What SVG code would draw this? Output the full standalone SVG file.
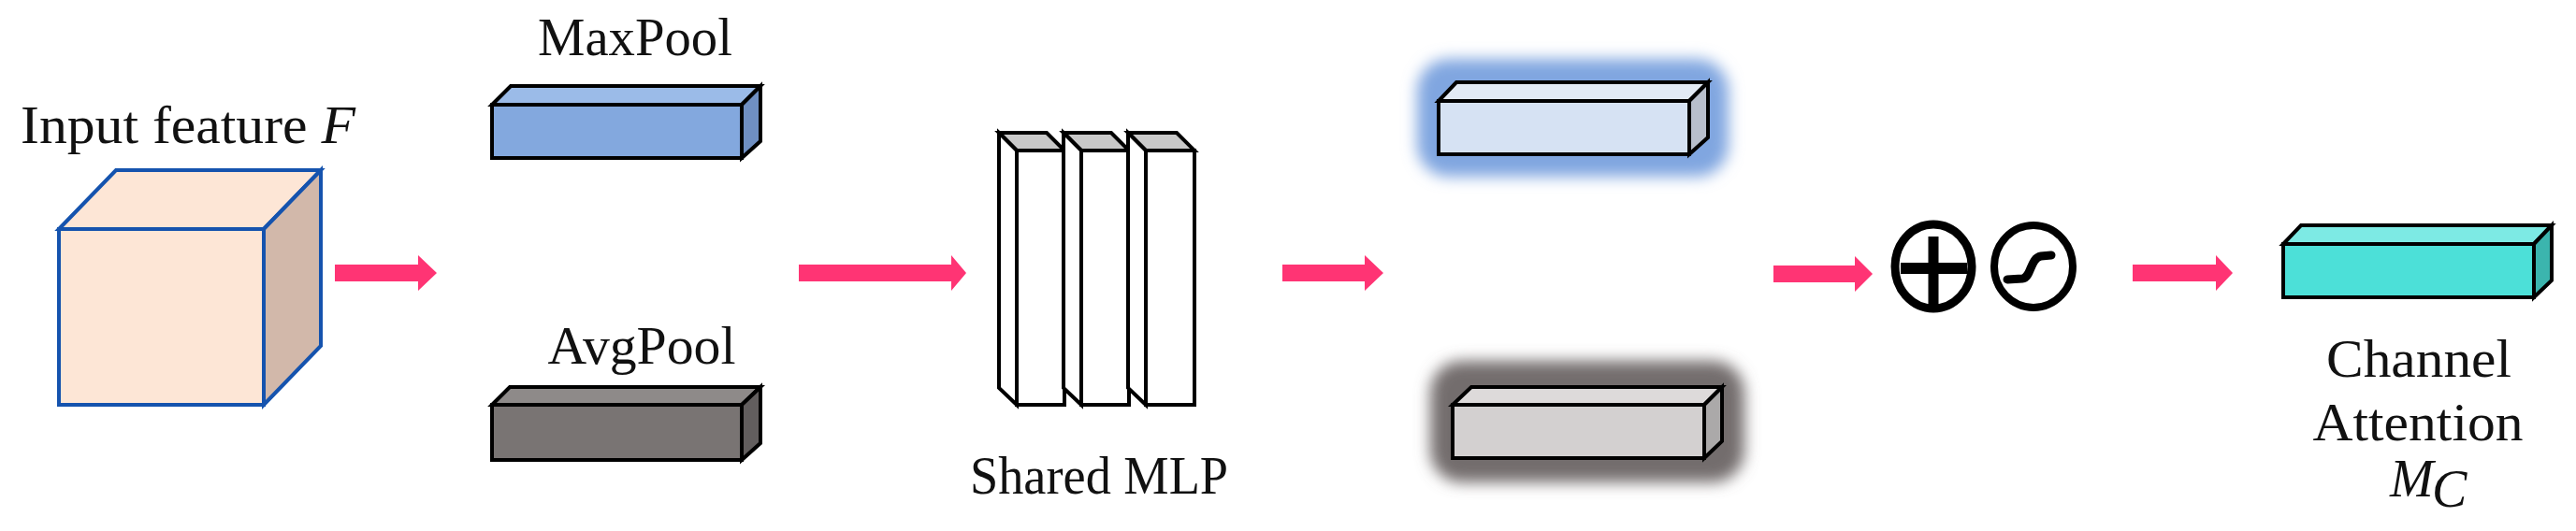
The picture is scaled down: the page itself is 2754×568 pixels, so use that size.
<svg xmlns="http://www.w3.org/2000/svg" width="2754" height="568" viewBox="0 0 2754 568">
<defs>
<style>
.lbl{font-family:"Liberation Serif","Times New Roman",serif;font-size:56px;fill:#111}
.arrow{fill:#FF3474}
.bar{stroke:#000;stroke-width:4;stroke-linejoin:miter}
.slab{stroke:#000;stroke-width:4;stroke-linejoin:miter}
.cube{stroke:#1553AE;stroke-width:4;stroke-linejoin:miter}
.sym{fill:none;stroke:#000}
</style>
<filter id="blur" x="-20%" y="-50%" width="140%" height="200%">
<feGaussianBlur stdDeviation="8"/>
</filter>
</defs>
<rect width="2754" height="568" fill="#fff"/>

<g id="input-feature">
<text class="lbl" x="22" y="153" textLength="358" lengthAdjust="spacingAndGlyphs">Input feature <tspan font-style="italic">F</tspan></text>
<polygon class="cube" fill="#FDE6D6" points="63,245 124,182 343,182 282,245"/>
<polygon class="cube" fill="#D2B8AA" points="282,245 343,182 343,370 282,433"/>
<rect class="cube" fill="#FDE6D6" x="63" y="245" width="219" height="188"/>
</g>

<g id="maxpool">
<text class="lbl" x="679" y="59" text-anchor="middle" textLength="208" lengthAdjust="spacingAndGlyphs">MaxPool</text>
<polygon class="bar" fill="#9BBBE8" points="526,112 546,92 813,92 793,112"/>
<polygon class="bar" fill="#6F8FC2" points="793,112 813,92 813,151 793,169"/>
<rect class="bar" fill="#83A8DE" x="526" y="112" width="267" height="57"/>
</g>

<g id="avgpool">
<text class="lbl" x="686" y="389" text-anchor="middle" textLength="201" lengthAdjust="spacingAndGlyphs">AvgPool</text>
<polygon class="bar" fill="#8E8A89" points="526,433 545,414 813,414 793,433"/>
<polygon class="bar" fill="#625E5E" points="793,433 813,414 813,474 793,492"/>
<rect class="bar" fill="#797473" x="526" y="433" width="267" height="59"/>
</g>

<g id="shared-mlp">
<polygon class="slab" fill="#C8C8C8" points="1068,142 1119,142 1138,161 1087,161"/>
<polygon class="slab" fill="#fff" points="1068,142 1087,161 1087,433 1068,415"/>
<rect class="slab" fill="#fff" x="1087" y="161" width="51" height="272"/>
<polygon class="slab" fill="#C8C8C8" points="1137,142 1188,142 1207,161 1156,161"/>
<polygon class="slab" fill="#fff" points="1137,142 1156,161 1156,433 1137,415"/>
<rect class="slab" fill="#fff" x="1156" y="161" width="51" height="272"/>
<polygon class="slab" fill="#C8C8C8" points="1206,142 1258,142 1277,161 1225,161"/>
<polygon class="slab" fill="#fff" points="1206,142 1225,161 1225,433 1206,415"/>
<rect class="slab" fill="#fff" x="1225" y="161" width="52" height="272"/>
<text class="lbl" x="1175" y="528" text-anchor="middle" textLength="276" lengthAdjust="spacingAndGlyphs">Shared MLP</text>
</g>

<g id="max-out">
<rect x="1515" y="63" width="333" height="126" rx="34" fill="#80A6E0" filter="url(#blur)"/>
<polygon class="bar" fill="#E2EAF5" points="1538,108 1557,88 1826,88 1806,108"/>
<polygon class="bar" fill="#B8BFCC" points="1806,108 1826,88 1826,147 1806,165"/>
<rect class="bar" fill="#D6E2F3" x="1538" y="108" width="268" height="57"/>
</g>

<g id="avg-out">
<rect x="1529" y="386" width="336" height="130" rx="34" fill="#736D6D" filter="url(#blur)"/>
<polygon class="bar" fill="#DDDADA" points="1553,433 1573,414 1841,414 1822,433"/>
<polygon class="bar" fill="#ABA9A9" points="1822,433 1841,414 1841,472 1822,490"/>
<rect class="bar" fill="#D3D0D0" x="1553" y="433" width="269" height="57"/>
</g>

<g id="sum">
<ellipse class="sym" cx="2067" cy="285" rx="41" ry="45" stroke-width="9"/>
<line class="sym" x1="2067" y1="253" x2="2067" y2="328" stroke-width="11"/>
<line class="sym" x1="2032" y1="287" x2="2103" y2="287" stroke-width="12"/>
</g>

<g id="sigmoid">
<ellipse class="sym" cx="2174" cy="285" rx="42" ry="44" stroke-width="8"/>
<path class="sym" d="M2146,299 L2162,298 C2172,297 2170,276 2182,274 L2193,273" stroke-width="9" stroke-linecap="round"/>
</g>

<g id="channel-attention">
<polygon class="bar" fill="#7DEAE4" points="2441,261 2460,241 2728,241 2709,261"/>
<polygon class="bar" fill="#3BB5AE" points="2709,261 2728,241 2728,300 2709,318"/>
<rect class="bar" fill="#4CE0D8" x="2441" y="261" width="268" height="57"/>
<text class="lbl" x="2586" y="403" text-anchor="middle" textLength="198" lengthAdjust="spacingAndGlyphs">Channel</text>
<text class="lbl" x="2585" y="471" text-anchor="middle" textLength="225" lengthAdjust="spacingAndGlyphs">Attention</text>
<text class="lbl" x="2555" y="531" font-style="italic">M</text>
<text class="lbl" x="2600" y="542" font-style="italic" font-size="40">C</text>
</g>

<g id="connectors">
<path class="arrow" d="M358,283 H447 V273 L467,292 L447,311 V301 H358 Z"/>
<path class="arrow" d="M854,283 H1017 V273 L1033,292 L1017,311 V301 H854 Z"/>
<path class="arrow" d="M1371,283 H1459 V273 L1479,292 L1459,311 V301 H1371 Z"/>
<path class="arrow" d="M1896,284 H1983 V274 L2002,293 L1983,312 V302 H1896 Z"/>
<path class="arrow" d="M2280,283 H2369 V273 L2387,292 L2369,311 V301 H2280 Z"/>
</g>
</svg>
